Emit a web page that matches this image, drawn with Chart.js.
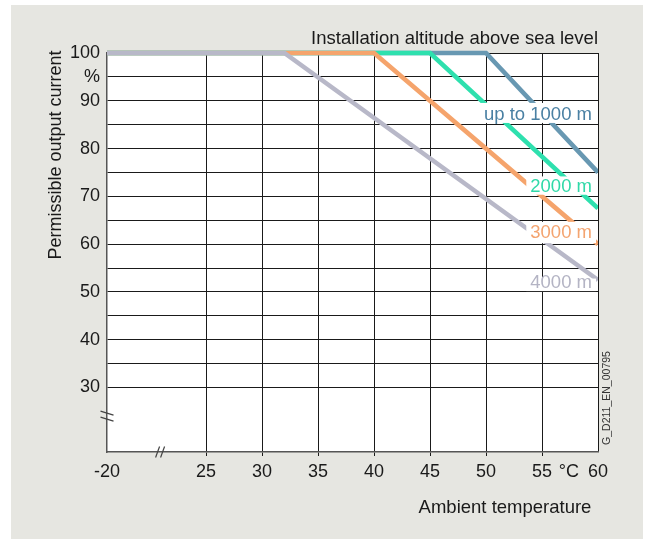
<!DOCTYPE html>
<html><head><meta charset="utf-8">
<script src="https://cdn.jsdelivr.net/npm/chart.js@4"></script>
<style>html,body{margin:0;padding:0;background:#fff;}#wrap{width:653px;height:539px;position:relative;}</style>
</head><body><div id="wrap"><canvas id="c"></canvas></div>
<script>
// ---------- data ----------
const seriesNames = ['4000 m', '3000 m', '2000 m', 'up to 1000 m'];
const temps4000 = [-20, 32, 60];
const current4000 = [100, 100, 52.5];
const temps3000 = [-20, 40, 60];
const current3000 = [100, 100, 60];
const temps2000 = [-20, 45, 60];
const current2000 = [100, 100, 67.5];
const temps1000 = [-20, 50, 60];
const current1000 = [100, 100, 75];
const xTickValues = [-20, 25, 30, 35, 40, 45, 50, 55, 60];
const xTickLabels = ['-20', '25', '30', '35', '40', '45', '50', '55', '60'];
const yTickValues = [30, 35, 40, 45, 50, 55, 60, 65, 70, 75, 80, 85, 90, 95, 100];
const yTickLabels = ['30', '', '40', '', '50', '', '60', '', '70', '', '80', '', '90', '%', '100'];
const titleText = 'Installation altitude above sea level';
const xTitle = 'Ambient temperature';
const yTitle = 'Permissible output current';
const unitText = '°C';
const codeText = 'G_D211_EN_00795';

// ---------- styles ----------
const FONT = "'Liberation Sans', Arial, Helvetica, sans-serif";
Chart.defaults.font.family = FONT;
const lineColors = ['#b8b8c8', '#f5a46c', '#2ee0ae', '#6898b2'];
const textColors = ['#b4b4c4', '#f4a470', '#30d9a8', '#4a80a3'];
const labelAnchorValues = [51.85, 62.3, 71.95, 87.1];
const labelBoxPad = [[4.5, 8], [11.3, 10], [10.6, 7.7], [11.7, 8.3]];
const seriesTemps = [temps4000, temps3000, temps2000, temps1000];
const seriesCurrents = [current4000, current3000, current2000, current1000];

// broken x axis: -20 ... 25 squeezed into a short segment
const X_BREAK_END = 25;
const X_BREAK_SPAN = 8.84;
function toAxis(t) {
  if (t >= X_BREAK_END) return t;
  return X_BREAK_END - (X_BREAK_END - t) * X_BREAK_SPAN / (X_BREAK_END - xTickValues[0]);
}

const datasets = seriesNames.map((name, i) => ({
  label: name,
  data: seriesTemps[i].map((t, j) => ({ x: toAxis(t), y: seriesCurrents[i][j] })),
  borderColor: lineColors[i],
  borderWidth: 4.6,
  pointRadius: 0,
  fill: false,
  tension: 0,
  clip: { left: 0, top: 6, right: 0, bottom: 0 }
}));

const decor = {
  id: 'decor',
  beforeDraw(chart) {
    const { ctx, chartArea: a } = chart;
    ctx.save();
    ctx.fillStyle = '#ffffff';
    ctx.fillRect(0, 0, chart.width, chart.height);
    ctx.fillStyle = '#e6e6e1';
    ctx.fillRect(11, 5, 632, chart.height - 5);
    ctx.fillStyle = '#ffffff';
    ctx.fillRect(a.left, a.top, a.right - a.left, a.bottom - a.top);
    ctx.restore();
  },
  afterDatasetsDraw(chart) {
    const { ctx, chartArea: a, scales } = chart;
    ctx.save();
    ctx.font = '18.5px ' + FONT;
    ctx.textAlign = 'right';
    ctx.textBaseline = 'middle';
    seriesNames.forEach((name, i) => {
      const y = scales.y.getPixelForValue(labelAnchorValues[i]);
      const xr = a.right - 6;
      const w = ctx.measureText(name).width;
      ctx.fillStyle = '#ffffff';
      ctx.fillRect(xr - w - 4, y - labelBoxPad[i][0], w + 8, labelBoxPad[i][0] + labelBoxPad[i][1]);
      ctx.fillStyle = textColors[i];
      ctx.fillText(name, xr, y);
    });
    ctx.restore();
  },
  afterDraw(chart) {
    const { ctx, chartArea: a, scales } = chart;
    ctx.save();
    // axis breaks
    ctx.strokeStyle = '#444';
    ctx.lineWidth = 1.2;
    const yb = scales.y.getPixelForValue(24);
    [-3, 3].forEach(d => {
      ctx.beginPath();
      ctx.moveTo(a.left - 6.5, yb + d - 2);
      ctx.lineTo(a.left + 6.5, yb + d + 2);
      ctx.stroke();
    });
    const xb = scales.x.getPixelForValue(20.9);
    [-2.5, 2.5].forEach(d => {
      ctx.beginPath();
      ctx.moveTo(xb + d - 2, a.bottom + 5.5);
      ctx.lineTo(xb + d + 2, a.bottom - 5.5);
      ctx.stroke();
    });
    // texts
    ctx.fillStyle = '#1a1a1a';
    ctx.font = '18.5px ' + FONT;
    ctx.textAlign = 'right';
    ctx.textBaseline = 'alphabetic';
    ctx.fillText(titleText, a.right, a.top - 9);
    ctx.textAlign = 'center';
    ctx.fillText(xTitle, 505, a.bottom + 61);
    ctx.font = '18px ' + FONT;
    ctx.textBaseline = 'middle';
    ctx.fillText(unitText, scales.x.getPixelForValue(57.4), a.bottom + 20);
    ctx.save();
    ctx.translate(a.left - 51, a.top + 102);
    ctx.rotate(-Math.PI / 2);
    ctx.fillText(yTitle, 0, 0);
    ctx.restore();
    ctx.save();
    ctx.font = '10.5px ' + FONT;
    ctx.fillStyle = '#333';
    ctx.translate(a.right + 9.5, 398);
    ctx.rotate(-Math.PI / 2);
    ctx.fillText(codeText, 0, 0);
    ctx.restore();
    ctx.restore();
  }
};

new Chart(document.getElementById('c'), {
  type: 'line',
  data: { datasets },
  options: {
    responsive: true,
    maintainAspectRatio: false,
    animation: false,
    events: [],
    layout: { padding: { left: 0, top: 53, right: 55, bottom: 0 } },
    plugins: { legend: { display: false }, tooltip: { enabled: false }, title: { display: false } },
    scales: {
      x: {
        type: 'linear',
        min: toAxis(xTickValues[0]),
        max: 60,
        afterBuildTicks: s => { s.ticks = xTickValues.map(v => ({ value: toAxis(v) })); },
        afterFit: s => { s.height = 87; },
        ticks: {
          autoSkip: false, maxRotation: 0, padding: 5,
          font: { size: 18 }, color: '#1a1a1a',
          callback: (v, i) => xTickLabels[i]
        },
        grid: {
          color: c => c.index === 0 ? 'rgba(0,0,0,0)' : '#1a1a1a',
          lineWidth: 1,
          drawTicks: true,
          tickLength: 4,
          tickColor: c => (c.index === 0 || c.index === xTickValues.length - 1) ? 'rgba(0,0,0,0)' : '#1a1a1a'
        },
        border: { display: true, color: '#555', width: 1.5 }
      },
      y: {
        min: 16.5,
        max: 100,
        afterBuildTicks: s => { s.ticks = yTickValues.map(v => ({ value: v })); },
        afterFit: s => { s.width = 107; },
        ticks: {
          autoSkip: false, padding: 7,
          font: { size: 18 }, color: '#1a1a1a',
          callback: v => yTickLabels[yTickValues.indexOf(v)]
        },
        grid: { color: '#1a1a1a', lineWidth: 1, drawTicks: false },
        border: { display: true, color: '#555', width: 1.5 }
      }
    }
  },
  plugins: [decor]
});
</script>
</body></html>
